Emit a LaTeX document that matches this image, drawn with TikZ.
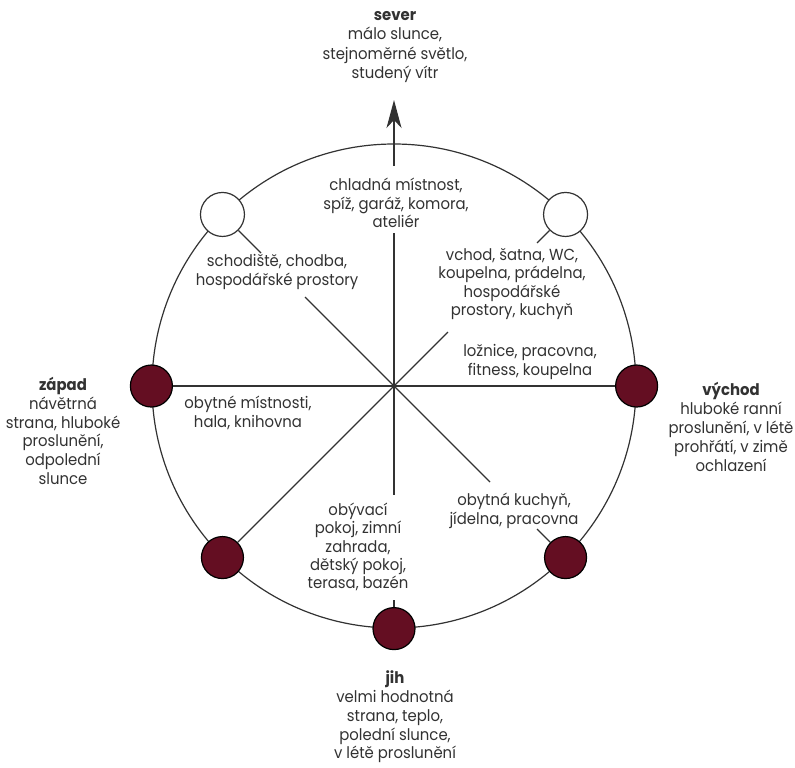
\documentclass[tikz,border=0pt]{standalone}
\usepackage{fontspec}
\setmainfont{Poppins}[FakeStretch=0.93]
\usetikzlibrary{arrows.meta,calc}
\definecolor{dotred}{RGB}{100,14,34}
\definecolor{inkgray}{RGB}{50,50,50}

\begin{document}
\begin{tikzpicture}[x=0.5pt, y=-0.5pt,
  line/.style={draw=inkgray, line width=0.6pt},
  ring/.style={circle, draw=inkgray, line width=0.6pt, minimum size=242pt, inner sep=0pt},
  sundot/.style={circle, draw=black, line width=0.6pt, fill=dotred, minimum size=21pt, inner sep=0pt},
  opendot/.style={circle, draw=inkgray, line width=0.6pt, fill=white, minimum size=22pt, inner sep=0pt},
  room/.style={align=center, font=\fontsize{8}{9.2}\selectfont, text=inkgray, inner sep=1pt},
  side/.style={room, font=\fontsize{8}{9.4}\selectfont},
]
\useasboundingbox (0,0) rectangle (795,767);

% === ring with the eight directions ===
\coordinate (c) at (394,386);
\node[ring] (ring) at (c) {};
\node[opendot] (nw) at (ring.135)  {};
\node[opendot] (ne) at (ring.45)   {};
\node[sundot]  (w)  at (ring.180)  {};
\node[sundot]  (e)  at (ring.0)    {};
\node[sundot]  (sw) at (ring.-135) {};
\node[sundot]  (s)  at (ring.-90)  {};
\node[sundot]  (se) at (ring.-45)  {};

% === cardinal points ===
\node[side, font=\fontsize{8}{9.8}\selectfont] (sever) at (395,47) {\textbf{sever}\\málo slunce,\\stejnoměrné světlo,\\studený vítr};
\node[side] (zapad)  at (63,431)  {\textbf{západ}\\návětrná\\strana, hluboké\\proslunění,\\odpolední\\slunce};
\node[side] (vychod) at (731,427) {\textbf{východ}\\hluboké ranní\\proslunění, v létě\\prohřátí, v zimě\\ochlazení};
\node[side] (jih)    at (395,717) {\textbf{jih}\\velmi hodnotná\\strana, teplo,\\polední slunce,\\v létě proslunění};

% === rooms ===
\node[room] (chladna) at (396,203) {chladná místnost,\\spíž, garáž, komora,\\ateliér};
\node[room] (schody)  at (277,272) {schodiště, chodba,\\hospodářské prostory};
\node[room] (vchod)   at (512,284) {vchod, šatna, WC,\\koupelna, prádelna,\\hospodářské\\prostory, kuchyň};
\node[room] (loznice) at (530,362) {ložnice, pracovna,\\fitness, koupelna};
\node[room] (obytne)  at (248,413) {obytné místnosti,\\hala, knihovna};
\node[room] (obyvaci) at (358,547) {obývací\\pokoj, zimní\\zahrada,\\dětský pokoj,\\terasa, bazén};
\node[room] (kuchyn)  at (514,511) {obytná kuchyň,\\jídelna, pracovna};

% gaps in the rays for the labels
\coordinate (nA)  at (394,233); \coordinate (nB)  at (394,166); \coordinate (tip) at (394,100);
\coordinate (nwA) at (305,297); \coordinate (nwB) at (261,253);
\coordinate (neA) at (448,332); \coordinate (neB) at (537,243);
\coordinate (seA) at (490,482); \coordinate (seB) at (537,529);
\coordinate (sA)  at (394,495); \coordinate (sB)  at (394,600);

\draw[line] (c) -- (nA);
\draw[line, -{Stealth[length=14pt, width=7.5pt, inset=4pt]}] (nB) -- (tip);
\draw[line] (c) -- (nwA);  \draw[line] (nwB) -- (nw);
\draw[line] (c) -- (neA);  \draw[line] (neB) -- (ne);
\draw[line] (c) -- (seA);  \draw[line] (seB) -- (se);
\draw[line] (c) -- (sA);   \draw[line] (sB)  -- (s);
\draw[line] (c) -- (sw);
\draw[line] (c) -- (w);
\draw[line] (c) -- (e);
\end{tikzpicture}
\end{document}
